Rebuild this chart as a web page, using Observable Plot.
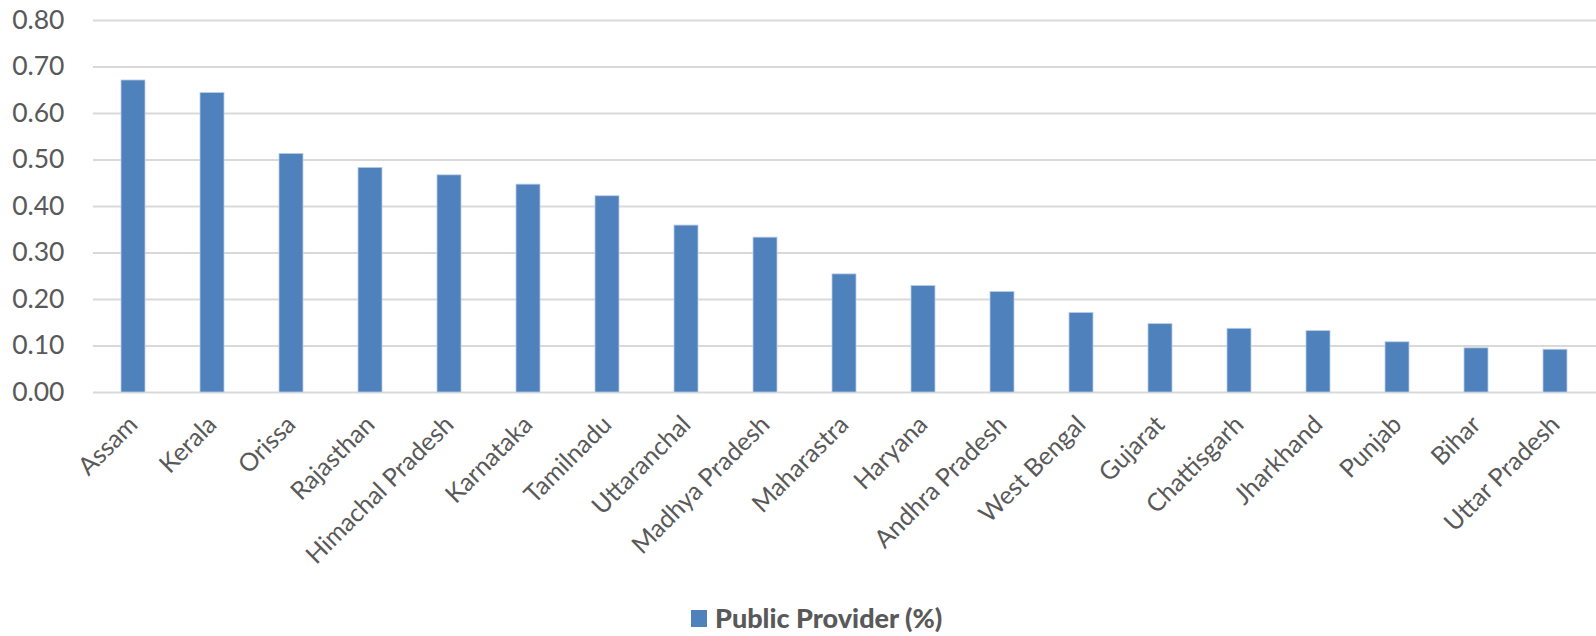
<!DOCTYPE html>
<html>
<head>
<meta charset="utf-8">
<script src="https://cdn.jsdelivr.net/npm/d3@7"></script>
<script src="https://cdn.jsdelivr.net/npm/@observablehq/plot@0.6"></script>
<style>
  html, body { margin: 0; padding: 0; background: #fff; overflow: hidden; }
  #chart svg { display: block; }
  #legend { position: relative; height: 46px; font-family: Lato, "Open Sans", sans-serif; font-weight: 900; font-size: 27px; line-height: 30px; color: #595959; }
  #legend .item { position: absolute; left: 691px; top: 13px; display: flex; align-items: center; }
  #legend .sw { width: 16px; height: 17px; background: #4f81bd; margin-right: 8px; }
</style>
</head>
<body>
<div id="chart"></div>
<div id="legend"><div class="item"><span class="sw"></span><span>Public Provider (%)</span></div></div>
<script>
const states = ["Assam","Kerala","Orissa","Rajasthan","Himachal Pradesh","Karnataka","Tamilnadu","Uttaranchal","Madhya Pradesh","Maharastra","Haryana","Andhra Pradesh","West Bengal","Gujarat","Chattisgarh","Jharkhand","Punjab","Bihar","Uttar Pradesh"];
const publicProvider = [0.671,0.644,0.513,0.483,0.467,0.447,0.422,0.359,0.333,0.254,0.229,0.216,0.171,0.147,0.137,0.132,0.108,0.095,0.092];
const yTicks = [0,0.1,0.2,0.3,0.4,0.5,0.6,0.7,0.8];

const data = states.map((s, i) => ({state: s, value: publicProvider[i]}));

const chart = Plot.plot({
  width: 1596,
  height: 590,
  marginTop: 20,
  marginLeft: 93,
  marginRight: 0,
  marginBottom: 198,
  style: {fontFamily: "Lato, 'Open Sans', sans-serif", color: "#595959", background: "#fff", overflow: "visible"},
  x: {domain: states, paddingInner: 0.693, paddingOuter: 0.3465, label: null},
  y: {domain: [0, 0.8], label: null},
  marks: [
    Plot.gridY(yTicks, {stroke: "#d9d9d9", strokeOpacity: 1, strokeWidth: 2}),
    Plot.barY(data, {x: "state", y: "value", fill: "#4f81bd", stroke: "#b9cde5", strokeWidth: 0.8}),
    Plot.axisY({ticks: yTicks, tickFormat: d3.format(".2f"), tickSize: 0, tickPadding: 29, fontSize: 26.5, label: null, fill: "#595959"}),
    Plot.axisX({tickSize: 0, tickPadding: 28, tickRotate: -45, fontSize: 25, label: null, fill: "#595959"})
  ]
});
document.getElementById("chart").appendChild(chart);
</script>
</body>
</html>
